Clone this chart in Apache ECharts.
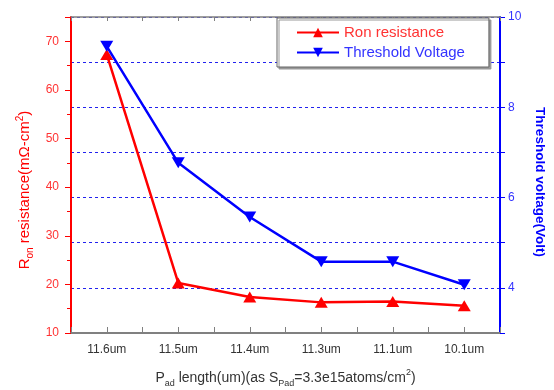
<!DOCTYPE html>
<html>
<head>
<meta charset="utf-8">
<script src="https://cdn.jsdelivr.net/npm/echarts@6/dist/echarts.min.js"></script>
<style>html,body{margin:0;padding:0;background:#fff;}#c{width:554px;height:390px;}</style>
</head>
<body>
<div id="c"></div>
<script>
var categories = ['11.6um', '11.5um', '11.4um', '11.3um', '11.1um', '10.1um'];
var ronValues = [67.3, 20.3, 17.4, 16.3, 16.5, 15.6];
var vthValues = [9.35, 6.77, 5.57, 4.58, 4.58, 4.07];
var leftTicks = [10, 20, 30, 40, 50, 60, 70];
var rightTickLabels = [4, 6, 8, 10];

var FONT = 'Liberation Sans, Arial, sans-serif';
function pairs(vals) { return vals.map(function (v, i) { return [i, v]; }); }

var chart = echarts.init(document.getElementById('c'));
chart.setOption({
  backgroundColor: '#fff',
  animation: false,
  textStyle: { fontFamily: FONT },
  grid: { left: 71, right: 54, top: 17, bottom: 57, containLabel: false, outerBoundsMode: 'none' },
  legend: {
    orient: 'vertical', left: 277, top: 18,
    padding: [7, 24, 7, 19], itemGap: 5, itemWidth: 42, itemHeight: 12,
    backgroundColor: '#fff', borderColor: '#666', borderWidth: 1,
    shadowColor: '#999', shadowOffsetX: 2, shadowOffsetY: 2, shadowBlur: 0,
    textStyle: { fontSize: 15, fontFamily: FONT },
    data: [
      { name: 'Ron resistance', textStyle: { color: '#ff3333' } },
      { name: 'Threshold Voltage', textStyle: { color: '#3333ff' } }
    ]
  },
  xAxis: [{
    type: 'value', position: 'bottom', min: -0.5, max: 5.5, interval: 0.5,
    axisLine: { onZero: false, lineStyle: { color: '#808080', width: 2 } },
    axisTick: { inside: true, length: 6, lineStyle: { color: '#808080' } },
    splitLine: { show: false },
    axisLabel: {
      color: '#333', fontSize: 12, margin: 11, fontFamily: FONT,
      formatter: function (v) { return Number.isInteger(v) ? categories[v] : ''; }
    },
    name: '{n|P}{sub|ad}{n| length(um)(as S}{sub|Pad}{n|=3.3e15atoms/cm}{sup|2}{n|)}',
    nameLocation: 'middle', nameGap: 35,
    nameTextStyle: {
      rich: {
        n: { fontSize: 14, color: '#333', lineHeight: 20, fontFamily: FONT },
        sub: { fontSize: 9, color: '#333', lineHeight: 9, verticalAlign: 'bottom', fontFamily: FONT },
        sup: { fontSize: 9, color: '#333', lineHeight: 9, verticalAlign: 'top', fontFamily: FONT }
      }
    }
  }, {
    type: 'value', position: 'top', min: -0.5, max: 5.5, interval: 0.5,
    axisLine: { onZero: false, lineStyle: { color: '#808080', width: 1.5 } },
    axisTick: { inside: true, length: 4, lineStyle: { color: '#808080' } },
    axisLabel: { show: false }, splitLine: { show: false }
  }],
  yAxis: [{
    type: 'value', position: 'left', min: 10, max: 75, interval: 10,
    axisLine: { show: true, onZero: false, lineStyle: { color: '#ff0000', width: 2 } },
    axisTick: { show: true, length: 6, lineStyle: { color: '#ff0000' } },
    minorTick: { show: true, splitNumber: 2, length: 4, lineStyle: { color: '#ff0000' } },
    splitLine: { show: false },
    axisLabel: {
      color: '#ff3333', fontSize: 12, margin: 12, showMaxLabel: false, fontFamily: FONT,
      formatter: function (v) { return leftTicks.indexOf(v) >= 0 ? String(v) : ''; }
    },
    name: '{n|R}{sub|on}{n| resistance(mΩ-cm}{sup|2}{n|)}',
    nameLocation: 'middle', nameGap: 35, nameRotate: 90,
    nameTextStyle: {
      padding: [0, 30, 0, 0],
      rich: {
        n: { fontSize: 15, color: '#ff0000', lineHeight: 20, fontFamily: FONT },
        sub: { fontSize: 10, color: '#ff0000', lineHeight: 9, verticalAlign: 'bottom', fontFamily: FONT },
        sup: { fontSize: 10, color: '#ff0000', lineHeight: 9, verticalAlign: 'top', fontFamily: FONT }
      }
    }
  }, {
    type: 'value', position: 'right', min: 3, max: 10, interval: 1,
    axisLine: { show: true, onZero: false, lineStyle: { color: '#0000ff', width: 2 } },
    axisTick: { show: true, length: 5, lineStyle: { color: '#0000ff' } },
    splitLine: { show: true, lineStyle: { color: '#2222ee', type: [3, 3], width: 1 } },
    axisLabel: {
      color: '#3333ff', fontSize: 12, margin: 8, fontFamily: FONT,
      formatter: function (v) { return rightTickLabels.indexOf(v) >= 0 ? String(v) : ''; }
    },
    name: 'Threshold voltage(Volt)',
    nameLocation: 'middle', nameGap: 33, nameRotate: -90,
    nameTextStyle: { color: '#0000ff', fontSize: 13.5, fontWeight: 'bold', fontFamily: FONT, padding: [0, 0, 0, 14] }
  }],
  series: [{
    name: 'Ron resistance', type: 'line', xAxisIndex: 0, yAxisIndex: 0,
    data: pairs(ronValues),
    symbol: 'triangle', symbolSize: [13, 11],
    lineStyle: { color: '#ff0000', width: 2.5 },
    itemStyle: { color: '#ff0000' }, z: 3
  }, {
    name: 'Threshold Voltage', type: 'line', xAxisIndex: 0, yAxisIndex: 1,
    data: pairs(vthValues),
    symbol: 'triangle', symbolRotate: 180, symbolSize: [13, 11],
    lineStyle: { color: '#0000ff', width: 2.5 },
    itemStyle: { color: '#0000ff' }, z: 4
  }]
});
</script>
</body>
</html>
